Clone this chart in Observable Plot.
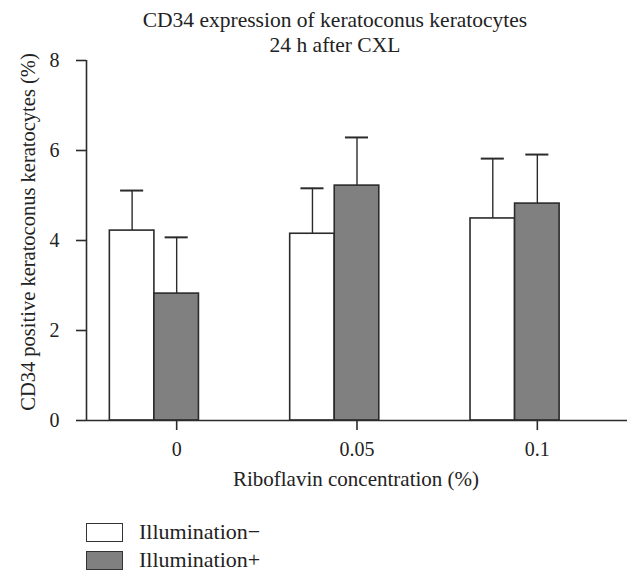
<!DOCTYPE html>
<html>
<head>
<meta charset="utf-8">
<script src="https://cdn.jsdelivr.net/npm/d3@7"></script>
<script src="https://cdn.jsdelivr.net/npm/@observablehq/plot@0.6"></script>
<style>
  body { margin: 0; background: #fff; }
  #wrap { position: relative; width: 640px; height: 581px; font-family: "Liberation Serif", "DejaVu Serif", serif; color: #222; overflow: hidden; }
  #chart { position: absolute; left: 0; top: 0; }
  #title { position: absolute; left: 135px; width: 400px; top: 8px; text-align: center; font-size: 21.5px; line-height: 24.5px; white-space: nowrap; }
  #xlabel { position: absolute; left: 156px; width: 400px; top: 469px; text-align: center; font-size: 21px; line-height: 21px; white-space: nowrap; }
  #ylabel { position: absolute; left: -172px; width: 400px; top: 222px; text-align: center; font-size: 20.5px; line-height: 20px; white-space: nowrap; transform: rotate(-90deg); }
  #legend { position: absolute; left: 86px; top: 518px; font-size: 22px; }
  .row { display: flex; align-items: center; height: 28px; white-space: nowrap; }
  .sw { width: 37px; height: 19px; border: 1.5px solid #333; margin-right: 16px; box-sizing: border-box; }
</style>
</head>
<body>
<div id="wrap">
  <div id="chart"></div>
  <div id="title"></div>
  <div id="xlabel"></div>
  <div id="ylabel"></div>
  <div id="legend"></div>
</div>
<script>
const titleLines = ["CD34 expression of keratoconus keratocytes", "24 h after CXL"];
const xLabel = "Riboflavin concentration (%)";
const yLabel = "CD34 positive keratoconus keratocytes (%)";
const categories = ["0", "0.05", "0.1"];
const series = ["Illumination−", "Illumination+"];
const seriesColors = ["#ffffff", "#808080"];
const meanMinus = [4.22, 4.15, 4.49];
const sdMinus = [0.89, 1.01, 1.33];
const meanPlus = [2.82, 5.22, 4.82];
const sdPlus = [1.25, 1.07, 1.09];
const yTicks = [0, 2, 4, 6, 8];

const barW = 0.247;   // bar width in category units
const capW = 0.064;   // half cap width in category units
const xDomain = [-0.5, 2.5];

const rows = [];
categories.forEach((c, i) => {
  rows.push({cat: c, i, s: series[0], v: meanMinus[i], e: sdMinus[i], x1: i - 1.5 * barW, x2: i - 0.5 * barW, fill: seriesColors[0]});
  rows.push({cat: c, i, s: series[1], v: meanPlus[i], e: sdPlus[i], x1: i - 0.5 * barW, x2: i + 0.5 * barW, fill: seriesColors[1]});
});
rows.forEach(d => { d.xc = (d.x1 + d.x2) / 2; d.top = d.v + d.e; });

const axisColor = "#2b2b2b";
const xTickVals = categories.map((c, i) => i);
const plot = Plot.plot({
  width: 640,
  height: 500,
  marginTop: 60,
  marginBottom: 80,
  marginLeft: 86,
  marginRight: 13,
  style: {fontFamily: "'Liberation Serif', 'DejaVu Serif', serif", fontSize: "20px", color: "#222", background: "transparent"},
  x: {domain: xDomain},
  y: {domain: [0, 8]},
  marks: [
    Plot.ruleX(rows, {x: "xc", y1: "v", y2: "top", stroke: axisColor, strokeWidth: 1.4}),
    Plot.ruleY(rows, {y: "top", x1: d => d.xc - capW, x2: d => d.xc + capW, stroke: axisColor, strokeWidth: 2}),
    Plot.rectY(rows, {x1: "x1", x2: "x2", y1: 0, y2: "v", fill: "fill", stroke: axisColor, strokeWidth: 1.6}),
    Plot.ruleY([0], {stroke: axisColor, strokeWidth: 1.6}),
    Plot.ruleX([xDomain[0]], {stroke: axisColor, strokeWidth: 1.6}),
    Plot.axisX({ticks: xTickVals, tickFormat: i => categories[i], tickSize: 10, tickPadding: 11, stroke: axisColor, strokeWidth: 1.6, label: null}),
    Plot.axisY({ticks: yTicks, tickSize: 10, tickPadding: 17, stroke: axisColor, strokeWidth: 1.6, label: null})
  ]
});
document.getElementById("chart").appendChild(plot);

document.getElementById("title").innerHTML = titleLines.join("<br>");
document.getElementById("xlabel").textContent = xLabel;
document.getElementById("ylabel").textContent = yLabel;

const legend = document.getElementById("legend");
series.forEach((s, k) => {
  const r = document.createElement("div");
  r.className = "row";
  const sw = document.createElement("div");
  sw.className = "sw";
  sw.style.background = seriesColors[k];
  const t = document.createElement("span");
  t.textContent = s;
  r.appendChild(sw); r.appendChild(t);
  legend.appendChild(r);
});
</script>
</body>
</html>
